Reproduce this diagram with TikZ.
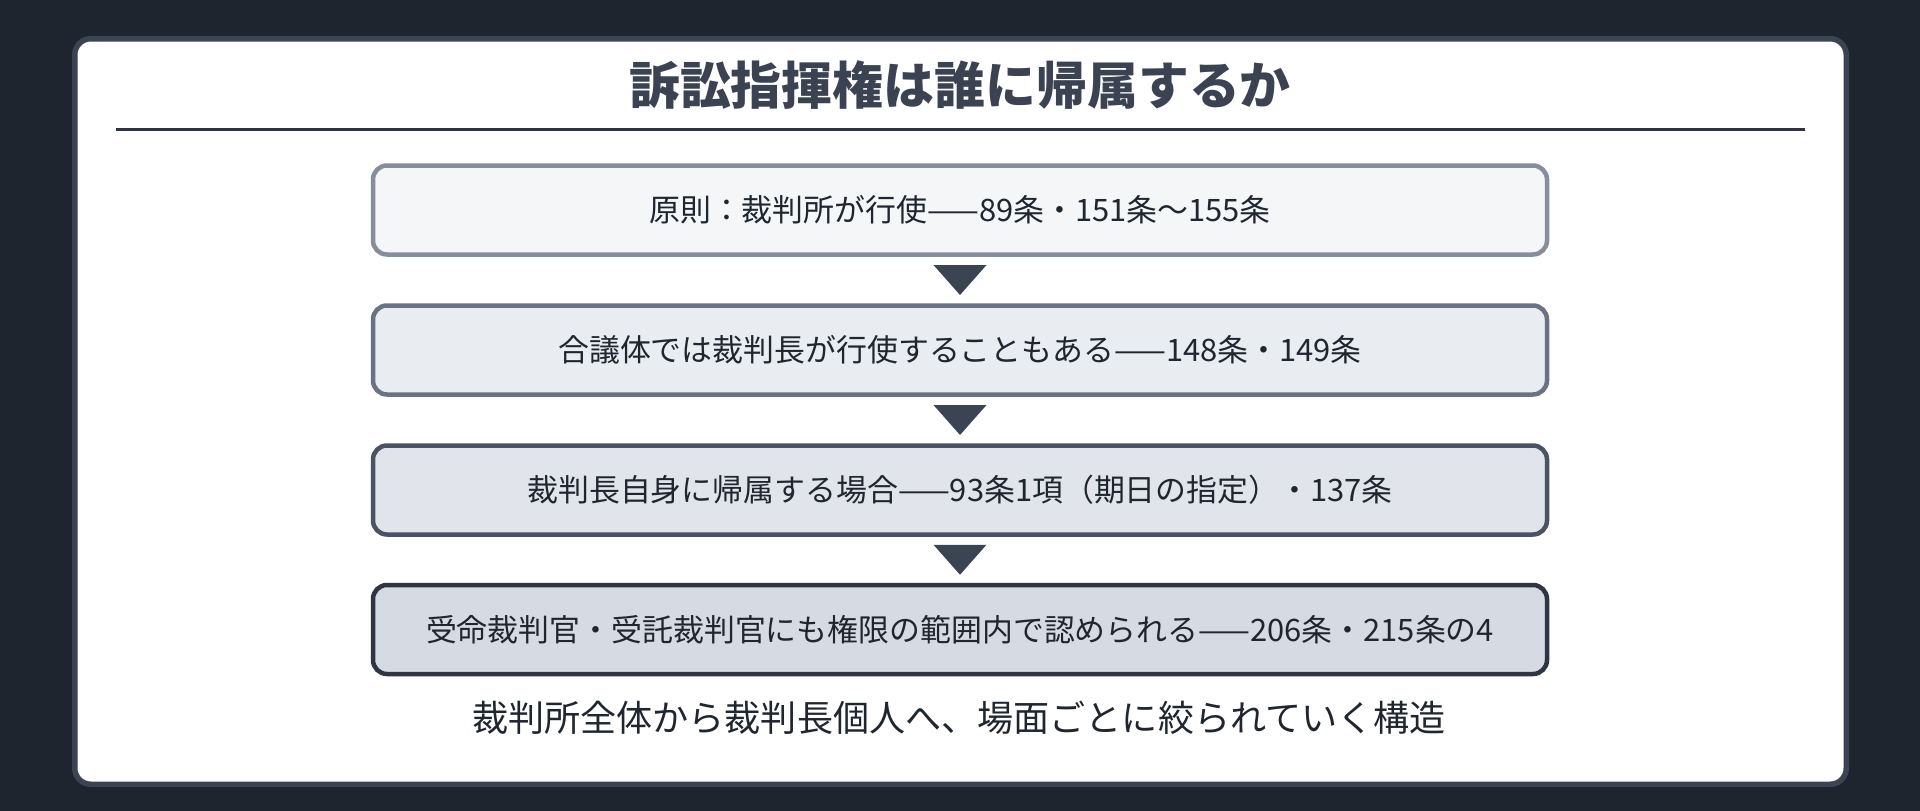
\documentclass[tikz,border=0pt]{standalone}
\usepackage{fontspec}
\setmainfont{Noto Sans CJK JP}
\usepackage{xcolor}
\usepackage{tikz}
\usetikzlibrary{calc}

\definecolor{bgdark}{HTML}{1E252E}
\definecolor{cardline}{HTML}{3B4453}
\definecolor{titleink}{HTML}{3B4352}
\definecolor{ruleline}{HTML}{2E3440}
\definecolor{ink}{HTML}{1F2630}
\definecolor{onefill}{HTML}{F5F6F8}
\definecolor{oneline}{HTML}{868E9B}
\definecolor{twofill}{HTML}{E9ECF0}
\definecolor{twoline}{HTML}{6A7383}
\definecolor{threefill}{HTML}{E1E4EA}
\definecolor{threeline}{HTML}{4A5363}
\definecolor{fourfill}{HTML}{D6DBE3}
\definecolor{fourline}{HTML}{2F3542}
\definecolor{tipfill}{HTML}{3B4453}

\begin{document}
\begin{tikzpicture}[x=1pt,y=-1pt,
    stage/.style={draw, line width=4.5pt, rounded corners=14pt,
      minimum width=1174pt, minimum height=89pt, inner sep=0pt,
      text=ink, font=\fontsize{30.9}{36}\selectfont}]
    \fill[bgdark] (0,0) rectangle (1920,811);
    \useasboundingbox (0,0) rectangle (1920,811);
    \draw[cardline, fill=white, line width=5.5pt, rounded corners=16pt] (74.75,38.75) rectangle (1846.25,784.25);

    \node[text=titleink, font=\fontsize{50.9}{58}\selectfont\bfseries] (ttl) at (960,85) {訴訟指揮権は誰に帰属するか};
    \draw[ruleline, line width=2.6pt] (116,129.5) -- (1805,129.5);

    \node[stage, fill=onefill, draw=oneline] (crt) at (960,210) {原則：裁判所が行使——89条・151条〜155条};
    \node[stage, fill=twofill, draw=twoline] (pres) at (960,350) {合議体では裁判長が行使することもある——148条・149条};
    \node[stage, fill=threefill, draw=threeline] (own) at (960,490) {裁判長自身に帰属する場合——93条1項（期日の指定）・137条};
    \node[stage, fill=fourfill, draw=fourline] (dlg) at (960,629.5) {受命裁判官・受託裁判官にも権限の範囲内で認められる——206条・215条の4};

    \node[text=ink, font=\fontsize{36.1}{43}\selectfont] (sum) at (959,718) {裁判所全体から裁判長個人へ、場面ごとに絞られていく構造};

    \foreach \a/\b in {crt/pres,pres/own,own/dlg}
      \fill[tipfill] ($(\a.south)!0.5!(\b.north)$) ++(-26.5,-15) -- ++(53,0) -- ++(-26.5,30) -- cycle;
  \end{tikzpicture}
\end{document}
